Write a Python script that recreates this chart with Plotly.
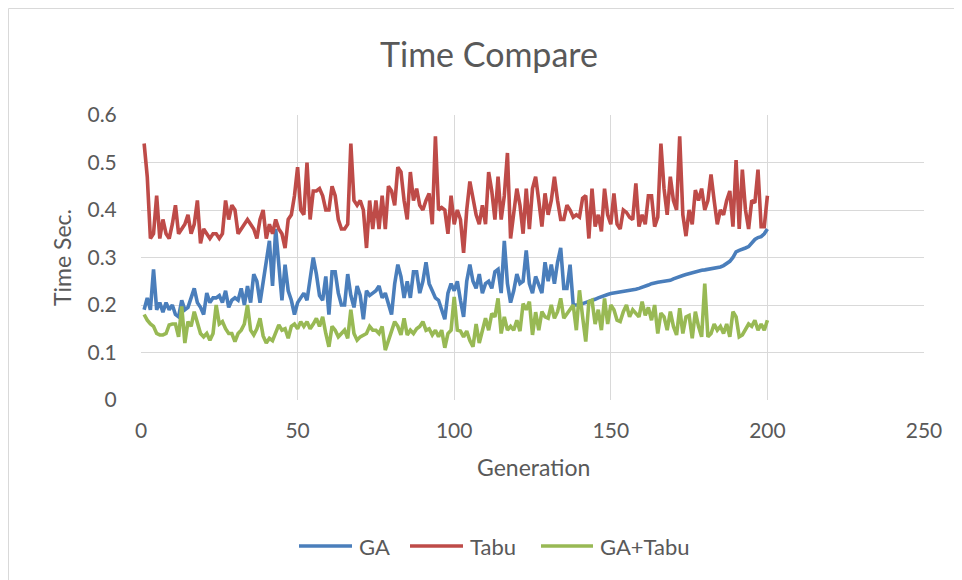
import plotly.graph_objects as go

generations = list(range(1, 201))

ga = [
    0.19, 0.215, 0.19, 0.275, 0.19, 0.205, 0.185, 0.205, 0.19, 0.20,
    0.18, 0.175, 0.21, 0.19, 0.195, 0.215, 0.235, 0.205, 0.195, 0.18,
    0.225, 0.205, 0.215, 0.215, 0.22, 0.205, 0.23, 0.195, 0.21, 0.215,
    0.21, 0.235, 0.20, 0.24, 0.205, 0.265, 0.25, 0.205, 0.25, 0.295,
    0.335, 0.24, 0.36, 0.285, 0.21, 0.285, 0.23, 0.21, 0.18, 0.205,
    0.215, 0.225, 0.21, 0.25, 0.30, 0.265, 0.22, 0.21, 0.26, 0.18,
    0.27, 0.27, 0.225, 0.20, 0.20, 0.265, 0.22, 0.195, 0.24, 0.22,
    0.17, 0.23, 0.22, 0.225, 0.23, 0.24, 0.215, 0.225, 0.20, 0.18,
    0.245, 0.285, 0.26, 0.215, 0.25, 0.215, 0.27, 0.27, 0.225, 0.25,
    0.29, 0.245, 0.23, 0.215, 0.21, 0.19, 0.17, 0.225, 0.245, 0.23,
    0.25, 0.21, 0.175, 0.25, 0.285, 0.25, 0.235, 0.265, 0.225, 0.245,
    0.25, 0.235, 0.27, 0.275, 0.225, 0.335, 0.245, 0.205, 0.23, 0.265,
    0.245, 0.25, 0.315, 0.245, 0.225, 0.26, 0.24, 0.225, 0.29, 0.25,
    0.285, 0.245, 0.29, 0.32, 0.235, 0.235, 0.285, 0.20, 0.20, 0.20,
    0.203, 0.205, 0.207, 0.21, 0.212, 0.215, 0.218, 0.22, 0.222, 0.224,
    0.225, 0.226, 0.228, 0.229, 0.23, 0.231, 0.232, 0.233, 0.235, 0.237,
    0.24, 0.242, 0.245, 0.247, 0.248, 0.249, 0.25, 0.251, 0.252, 0.255,
    0.258, 0.26, 0.262, 0.264, 0.266, 0.268, 0.27, 0.272, 0.273, 0.274,
    0.275, 0.276, 0.277, 0.279, 0.28, 0.283, 0.287, 0.292, 0.30, 0.312,
    0.315, 0.317, 0.32, 0.323, 0.33, 0.338, 0.342, 0.344, 0.35, 0.36,
]

tabu = [
    0.54, 0.47, 0.34, 0.35, 0.43, 0.34, 0.38, 0.35, 0.34, 0.37,
    0.41, 0.35, 0.36, 0.37, 0.39, 0.35, 0.37, 0.42, 0.33, 0.36,
    0.35, 0.34, 0.35, 0.35, 0.34, 0.35, 0.42, 0.38, 0.41, 0.40,
    0.35, 0.36, 0.37, 0.38, 0.37, 0.36, 0.34, 0.38, 0.40, 0.34,
    0.37, 0.35, 0.38, 0.36, 0.35, 0.32, 0.38, 0.39, 0.43, 0.49,
    0.40, 0.39, 0.50, 0.38, 0.44, 0.44, 0.445, 0.43, 0.40, 0.40,
    0.45, 0.43, 0.38, 0.36, 0.36, 0.37, 0.54, 0.42, 0.41, 0.42,
    0.40, 0.32, 0.42, 0.36, 0.42, 0.36, 0.43, 0.36, 0.45, 0.44,
    0.41, 0.49, 0.48, 0.42, 0.38, 0.48, 0.42, 0.445, 0.41, 0.40,
    0.42, 0.435, 0.37, 0.555, 0.40, 0.405, 0.40, 0.35, 0.43, 0.37,
    0.40, 0.38, 0.31, 0.40, 0.46, 0.42, 0.39, 0.37, 0.41, 0.37,
    0.48, 0.44, 0.38, 0.47, 0.38, 0.43, 0.52, 0.34, 0.40, 0.445,
    0.41, 0.35, 0.445, 0.36, 0.445, 0.47, 0.42, 0.365, 0.435, 0.39,
    0.42, 0.47, 0.42, 0.38, 0.38, 0.41, 0.40, 0.385, 0.39, 0.385,
    0.425, 0.43, 0.34, 0.445, 0.365, 0.39, 0.355, 0.445, 0.39, 0.37,
    0.435, 0.37, 0.36, 0.40, 0.395, 0.385, 0.38, 0.456, 0.365, 0.39,
    0.37, 0.43, 0.43, 0.365, 0.385, 0.54, 0.445, 0.39, 0.47, 0.42,
    0.40, 0.555, 0.39, 0.345, 0.40, 0.37, 0.442, 0.42, 0.445, 0.40,
    0.42, 0.475, 0.42, 0.37, 0.40, 0.39, 0.42, 0.44, 0.365, 0.505,
    0.36, 0.485, 0.40, 0.36, 0.42, 0.415, 0.485, 0.365, 0.365, 0.43,
]

ga_tabu = [
    0.18, 0.168, 0.16, 0.155, 0.14, 0.137, 0.137, 0.14, 0.158, 0.16,
    0.16, 0.133, 0.197, 0.12, 0.165, 0.155, 0.186, 0.16, 0.14, 0.133,
    0.14, 0.126, 0.14, 0.20, 0.16, 0.165, 0.15, 0.14, 0.14, 0.123,
    0.14, 0.147, 0.16, 0.20, 0.147, 0.137, 0.15, 0.172, 0.135, 0.12,
    0.13, 0.125, 0.14, 0.158, 0.147, 0.15, 0.13, 0.155, 0.16, 0.15,
    0.165, 0.155, 0.165, 0.15, 0.16, 0.172, 0.155, 0.175, 0.14, 0.112,
    0.155, 0.147, 0.133, 0.14, 0.147, 0.13, 0.19, 0.14, 0.126, 0.133,
    0.137, 0.14, 0.155, 0.147, 0.147, 0.14, 0.155, 0.105, 0.125, 0.147,
    0.165, 0.155, 0.137, 0.172, 0.137, 0.147, 0.14, 0.15, 0.155, 0.165,
    0.147, 0.15, 0.137, 0.147, 0.133, 0.147, 0.11, 0.14, 0.147, 0.217,
    0.147, 0.145, 0.133, 0.145, 0.125, 0.112, 0.16, 0.12, 0.147, 0.172,
    0.147, 0.182, 0.175, 0.214, 0.14, 0.175, 0.147, 0.155, 0.147, 0.168,
    0.145, 0.203, 0.19, 0.207, 0.137, 0.185, 0.147, 0.186, 0.175, 0.172,
    0.20, 0.172, 0.186, 0.214, 0.172, 0.182, 0.19, 0.20, 0.147, 0.231,
    0.175, 0.123, 0.207, 0.21, 0.16, 0.19, 0.147, 0.214, 0.16, 0.20,
    0.19, 0.168, 0.165, 0.186, 0.20, 0.175, 0.19, 0.183, 0.175, 0.207,
    0.178, 0.195, 0.168, 0.20, 0.14, 0.183, 0.175, 0.147, 0.186, 0.155,
    0.137, 0.193, 0.14, 0.175, 0.178, 0.13, 0.186, 0.155, 0.133, 0.245,
    0.133, 0.14, 0.16, 0.147, 0.155, 0.14, 0.16, 0.133, 0.186, 0.175,
    0.133, 0.137, 0.15, 0.16, 0.155, 0.168, 0.147, 0.16, 0.147, 0.168,
]

series_names = ["GA", "Tabu", "GA+Tabu"]
series_colors = ["#4a7ebb", "#be4b48", "#98b954"]

x_ticks = [0, 50, 100, 150, 200, 250]
y_ticks = [0, 0.1, 0.2, 0.3, 0.4, 0.5, 0.6]
y_tick_labels = ["0", "0.1", "0.2", "0.3", "0.4", "0.5", "0.6"]

FONT = "Lato"
TEXT = "#595959"
GRID = "#d9d9d9"

# page geometry (the page body adds an 8px margin around the figure)
OFF = 8
PX0, PX1 = 141, 924   # plot area left/right in page px
PY0, PY1 = 115, 400   # plot area top/bottom in page px
PW, PH = PX1 - PX0, PY1 - PY0


def px(xp):
    return (xp - PX0) / PW


def py(yp):
    return (PY1 - yp) / PH


fig = go.Figure()
for name, vals, col in zip(series_names, [ga, tabu, ga_tabu], series_colors):
    fig.add_trace(go.Scatter(x=generations, y=vals, mode="lines", name=name,
                             line=dict(color=col, width=3.6), showlegend=False))

annotations = [
    dict(text="Time Compare", xref="paper", yref="paper",
         x=px(489), y=py(53), xanchor="center", yanchor="middle",
         showarrow=False, font=dict(size=34, color=TEXT, family=FONT)),
    dict(text="Generation", xref="paper", yref="paper",
         x=px(533), y=py(467), xanchor="center", yanchor="middle",
         showarrow=False, font=dict(size=23, color=TEXT, family=FONT)),
    dict(text="Time Sec.", xref="paper", yref="paper", textangle=-90,
         x=px(62), y=py(258), xanchor="center", yanchor="middle",
         showarrow=False, font=dict(size=23, color=TEXT, family=FONT)),
]

shapes = [
    dict(type="rect", xref="paper", yref="paper",
         x0=px(OFF + 0.5), x1=px(990), y0=py(600), y1=py(OFF + 0.5),
         line=dict(color=GRID, width=1), fillcolor="rgba(0,0,0,0)", layer="below"),
]

# legend drawn as line samples + text labels below the plot
legend_items = [(299, 352, 357), (410, 463, 468), (541, 593, 598)]
LEG_Y = 546
for (l0, l1, tx), name, col in zip(legend_items, series_names, series_colors):
    shapes.append(dict(type="line", xref="paper", yref="paper",
                       x0=px(l0), x1=px(l1), y0=py(LEG_Y), y1=py(LEG_Y),
                       line=dict(color=col, width=3.6)))
    annotations.append(dict(text=name, xref="paper", yref="paper",
                            x=px(tx), y=py(LEG_Y), xanchor="left", yanchor="middle",
                            showarrow=False, font=dict(size=22, color=TEXT, family=FONT)))

fig.update_layout(
    width=962 - OFF, height=580 - OFF,
    margin=dict(l=PX0 - OFF, r=962 - PX1, t=PY0 - OFF, b=580 - PY1),
    paper_bgcolor="white", plot_bgcolor="white",
    font=dict(family=FONT, color=TEXT, size=21),
    showlegend=False,
    xaxis=dict(range=[0, 250], tickvals=x_ticks, showgrid=True, gridcolor=GRID, gridwidth=1,
               zeroline=False, showline=False, ticks="outside", ticklen=12,
               tickcolor="rgba(0,0,0,0)",
               tickfont=dict(size=21, color=TEXT), fixedrange=True),
    yaxis=dict(range=[0, 0.6], tickvals=y_ticks, ticktext=y_tick_labels, showgrid=True,
               gridcolor=GRID, gridwidth=1, zeroline=False, showline=False,
               ticks="outside", ticklen=19, tickcolor="rgba(0,0,0,0)",
               tickfont=dict(size=21, color=TEXT), fixedrange=True),
    annotations=annotations,
    shapes=shapes,
)

fig.write_html("out.html")
